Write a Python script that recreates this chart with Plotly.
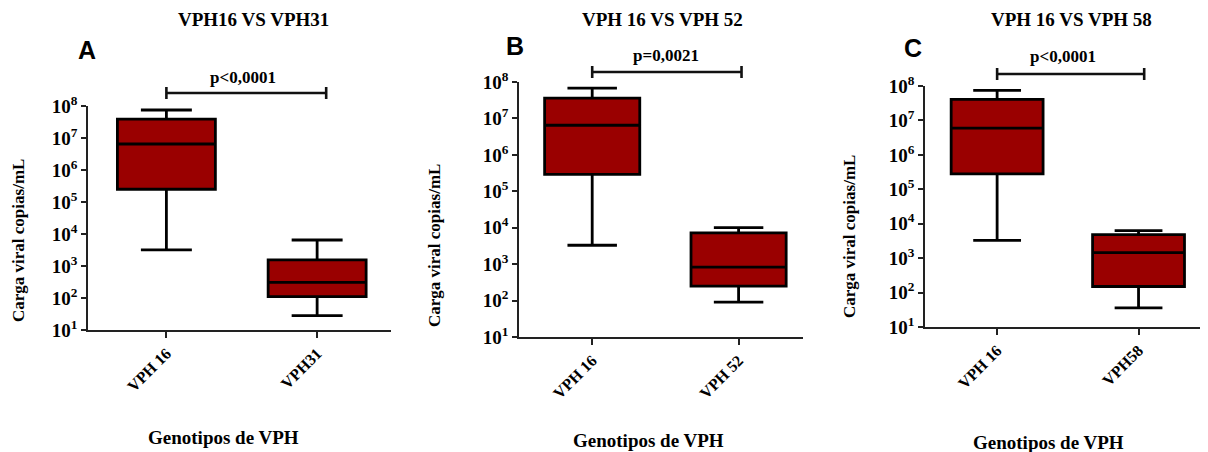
import plotly.graph_objects as go

# ---------------- data ----------------
panel_titles = ["VPH16 VS VPH31", "VPH 16 VS VPH 52", "VPH 16 VS VPH 58"]
panel_letters = ["A", "B", "C"]
p_values = ["p&lt;0,0001", "p=0,0021", "p&lt;0,0001"]

cats_A = ["VPH 16", "VPH31"]
cats_B = ["VPH 16", "VPH 52"]
cats_C = ["VPH 16", "VPH58"]

q1_A = [2.5e5, 110]
med_A = [6.5e6, 310]
q3_A = [3.9e7, 1.55e3]
lo_A = [3.2e3, 28]
hi_A = [7.5e7, 6.5e3]

q1_B = [2.9e5, 250]
med_B = [6.5e6, 830]
q3_B = [3.6e7, 7.2e3]
lo_B = [3.3e3, 91]
hi_B = [6.8e7, 1.0e4]

q1_C = [2.8e5, 150]
med_C = [6.0e6, 1.45e3]
q3_C = [4.1e7, 4.8e3]
lo_C = [3.3e3, 36]
hi_C = [7.5e7, 6.3e3]

y_exponents = [1, 2, 3, 4, 5, 6, 7, 8]
y_title = "Carga viral copias/mL"
x_title = "Genotipos de VPH"

# ---------------- layout / style ----------------
OFF = 8            # page body margin
W, H = 1200, 444   # figure size (fits the 1208x452 window with the body margin)
SERIF = "Liberation Serif"
SANS = "Liberation Sans"
FILL = "#9A0000"

panels = [
    dict(cats=cats_A, q1=q1_A, med=med_A, q3=q3_A, lo=lo_A, hi=hi_A,
         xdom=(88, 391), ydom=(106, 330), xr=(-0.52, 1.49),
         title_xy=(254, 20), letter_xy=(87, 50), p_xy=(243, 78), bar_y=93, bar_x=(0, 1.06),
         xt_xy=(223, 437), yt_xy=(18, 241)),
    dict(cats=cats_B, q1=q1_B, med=med_B, q3=q3_B, lo=lo_B, hi=hi_B,
         xdom=(519, 803), ydom=(82, 337), xr=(-0.50, 1.44),
         title_xy=(663, 20), letter_xy=(515, 46), p_xy=(666, 55), bar_y=72, bar_x=(0, 1.02),
         xt_xy=(648, 440), yt_xy=(435, 246)),
    dict(cats=cats_C, q1=q1_C, med=med_C, q3=q3_C, lo=lo_C, hi=hi_C,
         xdom=(925, 1205), ydom=(86, 327), xr=(-0.51, 1.47),
         title_xy=(1071, 20), letter_xy=(913, 48), p_xy=(1063, 57), bar_y=74, bar_x=(0, 1.04),
         xt_xy=(1048, 442), yt_xy=(850, 237)),
]

fig = go.Figure()

def px(x):
    return (x - OFF) / W

def py(y):
    return 1 - (y - OFF) / H

def bfont(family, size, weight="bold"):
    return dict(family=family, size=size, color="black", weight=weight)

annotations = []
shapes = []
for i, p in enumerate(panels):
    n = "" if i == 0 else str(i + 1)
    xa = "x" + n
    ya = "y" + n
    for j, c in enumerate(p["cats"]):
        fig.add_trace(go.Box(
            x=[c], q1=[p["q1"][j]], median=[p["med"][j]], q3=[p["q3"][j]],
            lowerfence=[p["lo"][j]], upperfence=[p["hi"][j]],
            width=0.65, whiskerwidth=0.52, fillcolor=FILL,
            line=dict(color="black", width=2.8), boxpoints=False,
            showlegend=False, hoverinfo="skip", xaxis=xa, yaxis=ya))

    fig.layout["xaxis" + n] = dict(
        domain=[px(p["xdom"][0]), min(px(p["xdom"][1]), 1.0)], anchor=ya,
        type="category", categoryorder="array", categoryarray=p["cats"],
        range=list(p["xr"]), showline=True, linecolor="#222", linewidth=1.8,
        ticks="outside", ticklen=6, tickwidth=1.8, tickcolor="#222",
        tickangle=-45, showgrid=False, zeroline=False, automargin=False,
        tickfont=bfont(SERIF, 16))
    fig.layout["yaxis" + n] = dict(
        domain=[py(p["ydom"][1]), py(p["ydom"][0])], anchor=xa,
        type="log", range=[1, 8],
        tickvals=[10 ** e for e in y_exponents],
        ticktext=["10<sup>%d</sup>" % e for e in y_exponents],
        showline=True, linecolor="#222", linewidth=1.8,
        ticks="outside", ticklen=5, tickwidth=1.8, tickcolor="#222",
        showgrid=False, zeroline=False, automargin=False,
        tickfont=bfont(SERIF, 19))

    common = dict(xref="paper", yref="paper", showarrow=False,
                  xanchor="center", yanchor="middle")
    annotations += [
        dict(text=panel_titles[i], x=px(p["title_xy"][0]), y=py(p["title_xy"][1]),
             font=bfont(SERIF, 19), **common),
        dict(text=panel_letters[i], x=px(p["letter_xy"][0]), y=py(p["letter_xy"][1]),
             font=bfont(SANS, 25), **common),
        dict(text=p_values[i], x=px(p["p_xy"][0]), y=py(p["p_xy"][1]),
             font=bfont(SERIF, 17), **common),
        dict(text=x_title, x=px(p["xt_xy"][0]), y=py(p["xt_xy"][1]),
             font=bfont(SERIF, 19), **common),
        dict(text=y_title, x=px(p["yt_xy"][0]), y=py(p["yt_xy"][1]), textangle=-90,
             font=bfont(SERIF, 17), **common),
    ]
    by = py(p["bar_y"])
    cap = 6 / H
    x0, x1 = p["bar_x"]
    lw = dict(color="#111", width=2.6)
    shapes += [
        dict(type="line", xref=xa, yref="paper", x0=x0, x1=x1, y0=by, y1=by, line=lw),
        dict(type="line", xref=xa, yref="paper", x0=x0, x1=x0, y0=by - cap, y1=by + cap, line=lw),
        dict(type="line", xref=xa, yref="paper", x0=x1, x1=x1, y0=by - cap, y1=by + cap, line=lw),
    ]

fig.update_layout(
    width=W, height=H, margin=dict(l=0, r=0, t=0, b=0, autoexpand=False),
    paper_bgcolor="white", plot_bgcolor="white",
    annotations=annotations, shapes=shapes)

fig.write_html("out.html")
